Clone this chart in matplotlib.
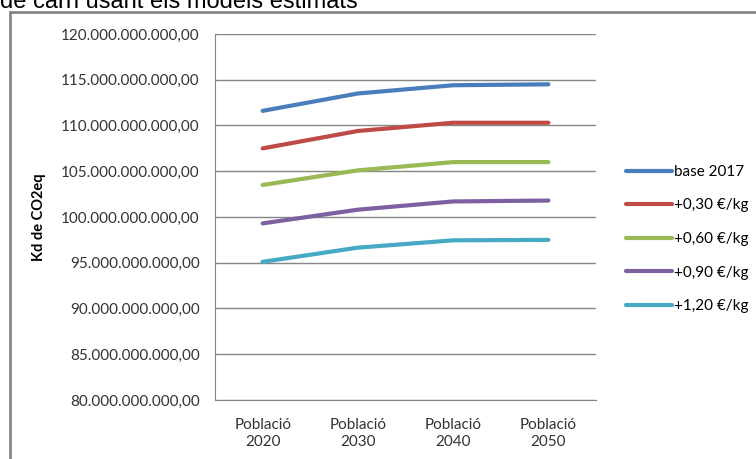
import numpy as np
import matplotlib
matplotlib.use("Agg")
import matplotlib.pyplot as plt
from matplotlib.ticker import FuncFormatter, MultipleLocator
from matplotlib.patches import Rectangle

plt.rcParams['font.family'] = ['Lato', 'DejaVu Sans']

# escenaris de població i emissions per preu de la carn
categories = ["Població\n2020", "Població\n2030", "Població\n2040", "Població\n2050"]
base_2017 = [111.6e9, 113.5e9, 114.4e9, 114.5e9]
plus_030 = [107.5e9, 109.4e9, 110.3e9, 110.3e9]
plus_060 = [103.5e9, 105.1e9, 106.0e9, 106.0e9]
plus_090 = [99.3e9, 100.8e9, 101.7e9, 101.8e9]
plus_120 = [95.1e9, 96.65e9, 97.45e9, 97.5e9]
series_names = ["base 2017", "+0,30 €/kg", "+0,60 €/kg", "+0,90 €/kg", "+1,20 €/kg"]
colors = ["#4A7EBB", "#BE4B48", "#98B954", "#7D60A0", "#46AAC5"]

def fmt_num(v, pos):
    s = "{:,.2f}".format(v)
    return s.replace(",", "X").replace(".", ",").replace("X", ".")

fig = plt.figure(figsize=(7.56, 4.59), dpi=100)
ax = fig.add_axes([215/756, 1-400/459, 381/756, 366/459])

x = np.arange(len(categories))
for vals, name, c in zip([base_2017, plus_030, plus_060, plus_090, plus_120], series_names, colors):
    ax.plot(x, vals, color=c, lw=3, label=name, solid_capstyle='round', solid_joinstyle='round')

ax.set_xlim(-0.5, len(categories) - 0.5)
ax.set_ylim(80e9, 120e9)
ax.yaxis.set_major_locator(MultipleLocator(5e9))
ax.yaxis.set_major_formatter(FuncFormatter(fmt_num))
ax.set_xticks(x)
ax.set_xticklabels(categories, linespacing=1.3)
ax.tick_params(axis='both', length=0, labelsize=11, labelcolor='#333333')
ax.tick_params(axis='y', pad=11)
ax.tick_params(axis='x', pad=13)
ax.grid(axis='y', color='#868686', lw=1)
ax.set_axisbelow(True)
for sp in ['top', 'right']:
    ax.spines[sp].set_visible(False)
ax.spines['left'].set_color('#868686')
ax.spines['bottom'].set_color('#868686')

ax.set_ylabel("Kd de CO2eq", fontsize=10.5, fontweight='bold')
ax.yaxis.set_label_coords(-0.444, 0.5)

fig.legend(loc='center left', bbox_to_anchor=(626/756, 1-239/459), frameon=False,
           fontsize=11, handlelength=3.0, handletextpad=0.15, labelspacing=1.28,
           borderpad=0, borderaxespad=0)

# marc del gràfic
fig.add_artist(Rectangle((10/756, -0.05), 1.2, 1 - 12/459 + 0.05, transform=fig.transFigure,
                         fill=False, edgecolor='#868686', lw=2))

fig.text(0, 1 - 8/459, "de carn usant els models estimats", family='Liberation Sans',
         fontsize=17, va='baseline', ha='left', color='black')

fig.savefig("out.png", dpi=100)
